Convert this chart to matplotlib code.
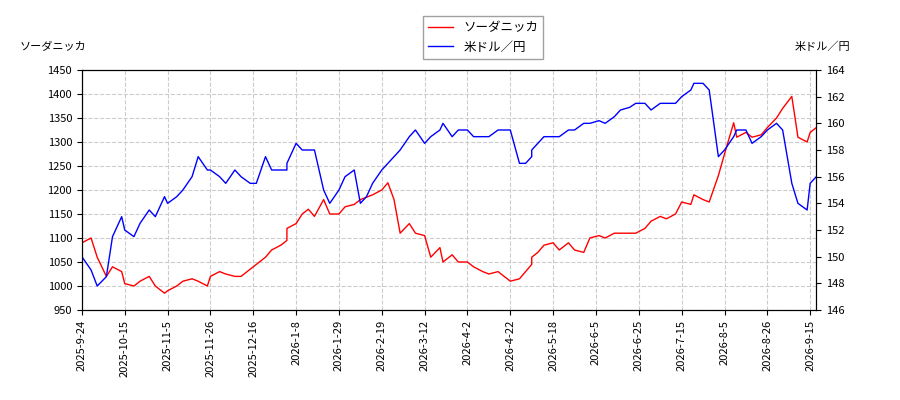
import matplotlib
matplotlib.use("Agg")
import matplotlib.pyplot as plt
import numpy as np

plt.rcParams['font.family'] = ['Noto Sans CJK JP', 'DejaVu Sans']

dates = ["2025-09-24","2025-09-28","2025-10-01","2025-10-05","2025-10-08","2025-10-12","2025-10-15","2025-10-19","2025-10-22","2025-10-26","2025-10-29",
"2025-11-02","2025-11-05","2025-11-09","2025-11-12","2025-11-16","2025-11-19","2025-11-23","2025-11-26","2025-11-30",
"2025-12-03","2025-12-07","2025-12-10","2025-12-14","2025-12-17","2025-12-21","2025-12-24","2025-12-28",
"2026-01-01","2026-01-04","2026-01-08","2026-01-11","2026-01-15","2026-01-18","2026-01-22","2026-01-25","2026-01-29",
"2026-02-01","2026-02-05","2026-02-08","2026-02-12","2026-02-15","2026-02-19","2026-02-22","2026-02-26",
"2026-03-01","2026-03-05","2026-03-08","2026-03-12","2026-03-15","2026-03-19","2026-03-22","2026-03-26","2026-03-29",
"2026-04-02","2026-04-05","2026-04-09","2026-04-12","2026-04-16","2026-04-19","2026-04-22","2026-04-26","2026-04-29",
"2026-05-03","2026-05-06","2026-05-10","2026-05-13","2026-05-17","2026-05-20","2026-05-24","2026-05-27","2026-05-31",
"2026-06-03","2026-06-07","2026-06-10","2026-06-14","2026-06-17","2026-06-21","2026-06-24","2026-06-28",
"2026-07-01","2026-07-05","2026-07-08","2026-07-12","2026-07-15","2026-07-19","2026-07-22","2026-07-26","2026-07-29",
"2026-08-02","2026-08-05","2026-08-09","2026-08-12","2026-08-16","2026-08-19","2026-08-23","2026-08-26","2026-08-30",
"2026-09-02","2026-09-05","2026-09-09","2026-09-12","2026-09-15","2026-09-17"]

soda = [1090,1100,1060,1020,1040,1030,1005,1000,1010,1020,1000,
985,990,1000,1010,1015,1010,1000,1020,1030,
1025,1020,1020,1035,1045,1060,1075,1085,
1095,1120,1130,1150,1160,1145,1180,1150,1150,
1165,1170,1180,1185,1190,1200,1215,1180,
1110,1130,1110,1105,1060,1080,1050,1065,1050,
1050,1040,1030,1025,1030,1020,1010,1015,1030,
1045,1060,1070,1085,1090,1075,1090,1075,1070,
1100,1105,1100,1110,1110,1110,1110,1120,
1135,1145,1140,1150,1175,1170,1190,1180,1175,
1230,1275,1340,1310,1320,1310,1315,1330,1350,
1370,1395,1310,1300,1320,1330]

usdjpy = [150,149,147.8,148.5,151.5,153,152,151.5,152.5,153.5,153,
154.5,154,154.5,155,156,157.5,156.5,156.5,156,
155.5,156.5,156,155.5,155.5,157.5,156.5,156.5,
156.5,157,158.5,158,158,158,155,154,155,
156,156.5,154,154.5,155.5,156.5,157,157.5,
158,159,159.5,158.5,159,159.5,160,159,159.5,
159.5,159,159,159,159.5,159.5,159.5,157,157,
157.5,158,158.5,159,159,159,159.5,159.5,160,
160,160.2,160,160.5,161,161.2,161.5,161.5,
161,161.5,161.5,161.5,162,162.5,163,163,162.5,
157.5,158,159,159.5,159.5,158.5,159,159.5,160,
159.5,155.5,154,153.5,155.5,156]

tick_dates = ["2025-09-24","2025-10-15","2025-11-05","2025-11-26","2025-12-16","2026-01-08","2026-01-29",
"2026-02-19","2026-03-12","2026-04-02","2026-04-22","2026-05-18","2026-06-05","2026-06-25",
"2026-07-15","2026-08-05","2026-08-26","2026-09-15"]

holidays = ["2025-10-13","2025-11-03","2025-11-24","2025-12-31","2026-01-01","2026-01-02","2026-01-12",
"2026-02-11","2026-02-23","2026-03-20","2026-04-29","2026-05-04","2026-05-05","2026-05-06",
"2026-07-20","2026-08-11","2026-09-21"]

def pos(ds):
    return np.busday_count("2025-09-24", np.array(ds, dtype="datetime64[D]"), holidays=holidays)

x = pos(dates)
tx = pos(tick_dates)
fig, ax = plt.subplots(figsize=(9, 4), dpi=100)
fig.subplots_adjust(left=0.091, right=0.907, top=0.825, bottom=0.225)
ax2 = ax.twinx()
l1, = ax.plot(x, soda, color='red', lw=1)
l2, = ax2.plot(x, usdjpy, color='blue', lw=1)
ax.set_ylim(950, 1450)
ax.set_yticks(range(950, 1451, 50))
ax2.set_ylim(146, 164)
ax2.set_yticks(range(146, 165, 2))
ax.set_xticks(tx)
ax.set_xticklabels([f"{int(d[:4])}-{int(d[5:7])}-{int(d[8:])}" for d in tick_dates], rotation=90, fontsize=8)
ax.set_xlim(0, pos(["2026-09-17"])[0])
ax.grid(True, color='#cccccc', ls='--', lw=0.8)
ax.tick_params(labelsize=8)
ax2.tick_params(labelsize=8)
fig.text(0.022, 0.875, 'ソーダニッカ', fontsize=8)
fig.text(0.945, 0.875, '米ドル／円', fontsize=8, ha='right')
fig.legend([l1, l2], ['ソーダニッカ', '米ドル／円'], loc='upper center', bbox_to_anchor=(0.537, 0.975), fontsize=9, fancybox=False, edgecolor='#888888')
fig.savefig('out.png')
